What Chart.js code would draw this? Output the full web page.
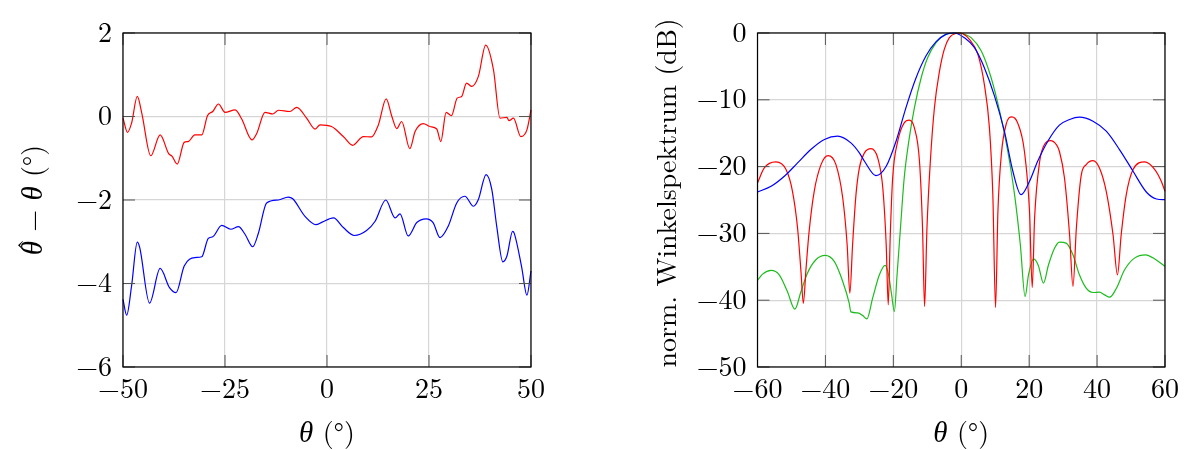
<!DOCTYPE html>
<html><head><meta charset="utf-8">
<script src="https://cdn.jsdelivr.net/npm/chart.js@4"></script>
<style>
body{margin:0;background:#fff;width:1189px;height:450px;overflow:hidden;position:relative}
.c{position:absolute;top:0;height:450px}
</style></head><body>
<div class="c" style="left:0;width:595px"><canvas id="c1" width="595" height="450"></canvas></div>
<div class="c" style="left:595px;width:594px"><canvas id="c2" width="594" height="450"></canvas></div>
<script>
// ---- Left plot: estimation error ----
const errTheta = [-50,-48.9,-47.9,-46.5,-45.4,-43.2,-40.9,-38.8,-38,-36.7,-35,-34,-32.4,-30.7,-29.3,-28,-26.6,-25,-22.5,-20.9,-18.4,-17.2,-15.2,-13.3,-11.9,-9.1,-7.4,-5,-2.9,-1.7,1.1,4,6.3,8.9,10.9,12.6,14.5,15.9,17.1,18.3,20.3,21.6,23.6,25.2,26.9,27.9,29.2,30.5,31.9,33,34.2,35.5,37.1,38.9,40.8,42.4,44.1,44.6,45.7,47.5,49,50];
const errRed = [-0.04,-0.38,-0.16,0.48,0.08,-0.94,-0.44,-0.89,-0.95,-1.14,-0.62,-0.6,-0.44,-0.44,0.02,0.12,0.30,0.10,0.16,-0.06,-0.56,-0.40,0.10,0.06,0.15,0.12,0.22,-0.04,-0.30,-0.20,-0.24,-0.48,-0.69,-0.48,-0.49,-0.2,0.42,0.0,-0.29,-0.12,-0.77,-0.36,-0.17,-0.24,-0.3,-0.6,0.10,0.02,0.44,0.48,0.80,0.72,0.96,1.71,1.12,-0.04,-0.02,-0.1,-0.04,-0.48,-0.32,0.16];
const errThetaB = [-50,-49.1,-47.9,-46.5,-45.9,-43.5,-40.9,-38.6,-37,-35,-32.4,-30.7,-29.1,-28,-25.8,-23.6,-21.7,-20.1,-18.2,-16.8,-14.8,-11.9,-9.5,-8.4,-5.4,-2.7,-1.2,1.6,4,6.7,9.7,11.8,14.4,16.7,17.9,19.9,22,24.3,26,27.7,29.7,31.8,33.8,35.9,37.1,39,40.4,41.6,43.1,44.1,45.5,45.9,47.7,49,50];
const errBlue = [-4.38,-4.76,-4.06,-3.01,-3.14,-4.47,-3.64,-4.10,-4.22,-3.58,-3.38,-3.36,-2.92,-2.88,-2.61,-2.70,-2.64,-2.82,-3.12,-2.79,-2.07,-2.00,-1.93,-1.97,-2.39,-2.59,-2.53,-2.43,-2.66,-2.85,-2.73,-2.51,-2.00,-2.43,-2.33,-2.86,-2.54,-2.45,-2.54,-2.90,-2.63,-2.07,-1.91,-2.15,-1.99,-1.39,-1.75,-2.63,-3.48,-3.34,-2.75,-2.8,-3.60,-4.28,-3.7];
const errXTicks = [-50,-25,0,25,50];
const errYTicks = [-6,-4,-2,0,2];

// ---- Right plot: normalized angular spectrum (dB) ----
const specBlueTheta = [-60,-56,-52.1,-48.2,-44.3,-40.3,-36.4,-32.5,-30,-28.5,-25.1,-22.1,-19.2,-16.3,-13.3,-10.4,-7.4,-4.5,-2,0.9,3.9,6.8,9.8,12.7,15.2,17.6,20.1,22.5,25.5,28.9,31.9,34.8,38.8,42.7,46.6,50.6,54.5,57.5,60];
const specBlue = [-23.8,-22.95,-21.45,-19.45,-17.45,-15.95,-15.45,-16.45,-17.95,-19.2,-21.35,-19.95,-16.2,-11.2,-6.7,-3.45,-1.3,-0.2,0,-0.7,-2.2,-5.2,-9.45,-14.7,-20.7,-24.2,-22.2,-19.2,-16.2,-13.8,-12.95,-12.6,-13.2,-14.7,-17.45,-20.7,-23.8,-24.85,-24.95];
const specRedTheta = [-60,-58,-54.6,-51.6,-49.7,-48.2,-47.2,-46.5,-45.7,-44.8,-43.3,-41.3,-39.2,-36.9,-34.9,-33.6,-32.8,-32,-31,-30,-28.5,-26.6,-24.6,-23.1,-22.1,-21.5,-20.9,-20.2,-18.7,-16.8,-15.3,-13.8,-12.3,-11.4,-10.8,-10.1,-9.1,-7.9,-6.4,-5,-3.5,-1.5,-0.5,0.5,2.4,4.9,6.8,8.3,9.3,10.1,10.8,11.8,13.2,14.9,16.6,18.6,20.1,20.9,21.6,23.1,24.5,26.3,28,28.9,30.4,31.9,32.9,33.9,35.3,36.8,38.8,40.7,42.7,44.7,46,47.1,48.6,50.6,54,57,58.9,60];
const specRed = [-22.45,-20.2,-19.3,-20.45,-23.7,-29.2,-35.7,-40.45,-35.2,-29.7,-23.7,-19.7,-18.35,-19.7,-24.7,-31.7,-38.95,-31.7,-24.2,-20.2,-17.95,-17.3,-18.7,-23.2,-31.7,-40.7,-30.2,-21.7,-16.2,-13.45,-13.05,-14.2,-19.2,-29.2,-40.95,-29.2,-19.2,-11.2,-5.7,-2.45,-0.7,-0.05,0,-0.1,-0.95,-3.2,-7.7,-14.2,-24.2,-41.1,-26.7,-18.2,-13.7,-12.55,-13.45,-17.7,-26.7,-38.1,-27.7,-19.2,-16.7,-16.1,-16.7,-17.7,-21.7,-30.2,-37.95,-29.2,-21.4,-19.7,-19.1,-20.2,-23.7,-30.2,-36.2,-30.2,-24.2,-20.45,-19.3,-20.45,-22.2,-23.7];
const specGreenTheta = [-60,-58.5,-56,-53.6,-51.2,-49,-47.2,-45.3,-42.8,-40.1,-37.4,-34.9,-33,-32.5,-30.5,-29,-27.8,-26.1,-24.1,-22.4,-21.4,-20.5,-19.7,-18.9,-17.9,-16.8,-15.3,-13.8,-11.8,-9.9,-7.4,-5,-2,-0.5,1,2.9,5.9,8.8,11.3,13.7,15.7,17.4,18.8,19.8,21.3,22.7,24.2,25.7,27.5,28.9,30.9,32.9,34.8,36.8,38.8,40.7,42.2,43.7,45.7,48.1,51,54.3,56.9,60];
const specGreen = [-37.05,-36.1,-35.55,-36.2,-38.7,-41.35,-38.7,-35.95,-33.95,-33.3,-34.2,-37.2,-40.45,-41.75,-41.9,-42.3,-42.8,-39.7,-36.2,-34.8,-36.2,-39.2,-41.7,-36.2,-29.2,-21.7,-15.7,-11.2,-6.7,-3.7,-1.45,-0.3,-0.02,0,-0.2,-0.7,-2.7,-6.7,-11.7,-17.7,-24.2,-31.7,-39.45,-36.2,-33.8,-34.8,-37.45,-34.7,-32.2,-31.3,-31.45,-33.2,-36.2,-38.2,-38.85,-38.8,-39.2,-39.55,-38.2,-35.45,-33.7,-33.2,-33.8,-34.95];
const specXTicks = [-60,-40,-20,0,20,40,60];
const specYTicks = [-50,-40,-30,-20,-10,0];

const FONT = '"Latin Modern Roman","CMU Serif","Liberation Serif","Times New Roman",serif';
const GREEK = '"Liberation Serif","Times New Roman",serif';
const FS = 28;
const RED = '#ff0000', BLUE = '#0000ff', GREEN = '#1cbc1c';

const pts = (xs, ys) => xs.map((x, i) => ({x, y: ys[i]}));
const fmt = v => (v < 0 ? '\u2212' + Math.abs(v) : String(v));

function ds(data, color) {
  return {data, borderColor: color, borderWidth: 1.2, pointRadius: 0, fill: false,
          cubicInterpolationMode: 'monotone', clip: 2};
}

// segs: [text, italicGreek, hat]
function drawSegs(ctx, segs, cx, cy, rot) {
  ctx.save();
  ctx.translate(cx, cy);
  if (rot) ctx.rotate(-Math.PI / 2);
  ctx.textBaseline = 'alphabetic';
  ctx.fillStyle = '#000';
  const fontOf = s => s[1] ? 'italic ' + (FS + 1) + 'px ' + GREEK : FS + 'px ' + FONT;
  let total = 0;
  const w = segs.map(s => { ctx.font = fontOf(s); const m = ctx.measureText(s[0]).width; total += m; return m; });
  let x = -total / 2;
  const base = FS * 0.33;
  segs.forEach((s, i) => {
    ctx.font = fontOf(s); ctx.textAlign = 'left';
    ctx.fillText(s[0], x, base);
    if (s[2]) {
      ctx.font = FS + 'px ' + FONT;
      ctx.textAlign = 'center';
      ctx.fillText('\u02C6', x + w[i] / 2 + 3, base - FS * 0.2);
    }
    x += w[i];
  });
  ctx.restore();
}

function framePlugin(xTitle, yTitle) {
  return {
    id: 'frame',
    afterDraw(chart) {
      const {ctx, chartArea: a} = chart;
      const xs = chart.scales.x, ys = chart.scales.y;
      ctx.save();
      ctx.strokeStyle = '#555';
      ctx.lineWidth = 1;
      const L = 12;
      xs.ticks.forEach(t => {
        const p = xs.getPixelForValue(t.value);
        ctx.beginPath(); ctx.moveTo(p, a.bottom); ctx.lineTo(p, a.bottom - L);
        ctx.moveTo(p, a.top); ctx.lineTo(p, a.top + L); ctx.stroke();
      });
      ys.ticks.forEach(t => {
        const p = ys.getPixelForValue(t.value);
        ctx.beginPath(); ctx.moveTo(a.left, p); ctx.lineTo(a.left + L, p);
        ctx.moveTo(a.right, p); ctx.lineTo(a.right - L, p); ctx.stroke();
      });
      ctx.strokeStyle = '#000';
      ctx.lineWidth = 1.2;
      ctx.strokeRect(a.left, a.top, a.right - a.left, a.bottom - a.top);
      ctx.restore();
      drawSegs(ctx, xTitle.segs, (a.left + a.right) / 2, xTitle.y, false);
      drawSegs(ctx, yTitle.segs, yTitle.x, (a.top + a.bottom) / 2 + yTitle.dy, true);
    }
  };
}

function makeChart(id, datasets, xr, yr, xt, yt, pad, yW, plugin) {
  return new Chart(document.getElementById(id), {
    type: 'line',
    data: {datasets},
    options: {
      responsive: false, animation: false, devicePixelRatio: 1,
      layout: {padding: pad},
      plugins: {legend: {display: false}, tooltip: {enabled: false}},
      scales: {
        x: {type: 'linear', min: xr[0], max: xr[1],
            afterBuildTicks: s => { s.ticks = xt.map(v => ({value: v})); },
            afterFit: s => { s.height = 83; },
            grid: {color: '#d6d6d6', lineWidth: 1.2, drawTicks: false},
            border: {display: false},
            ticks: {autoSkip: false, maxRotation: 0, padding: 6, color: '#000', font: {family: FONT, size: FS}, callback: fmt}},
        y: {type: 'linear', min: yr[0], max: yr[1],
            afterBuildTicks: s => { s.ticks = yt.map(v => ({value: v})); },
            afterFit: s => { s.width = yW; },
            grid: {color: '#d6d6d6', lineWidth: 1.2, drawTicks: false},
            border: {display: false},
            ticks: {autoSkip: false, padding: 11, color: '#000', font: {family: FONT, size: FS}, callback: fmt}}
      }
    },
    plugins: [plugin]
  });
}

makeChart('c1',
  [ds(pts(errTheta, errRed), RED), ds(pts(errThetaB, errBlue), BLUE)],
  [-50, 50], [-6, 2], errXTicks, errYTicks,
  {left: 0, top: 33, right: 64, bottom: 0}, 123,
  framePlugin({segs: [['θ', true], [' (°)', false]], y: 433},
              {segs: [['θ', true, true], [' \u2212 ', false], ['θ', true], [' (°)', false]], x: 33, dy: 0}));

makeChart('c2',
  [ds(pts(specBlueTheta, specBlue), BLUE), ds(pts(specRedTheta, specRed), RED), ds(pts(specGreenTheta, specGreen), GREEN)],
  [-60, 60], [-50, 0], specXTicks, specYTicks,
  {left: 0, top: 33, right: 24, bottom: 0}, 162.5,
  framePlugin({segs: [['θ', true], [' (°)', false]], y: 433},
              {segs: [['norm. Winkelspektrum (dB)', false]], x: 72, dy: -7}));
</script>
</body></html>
